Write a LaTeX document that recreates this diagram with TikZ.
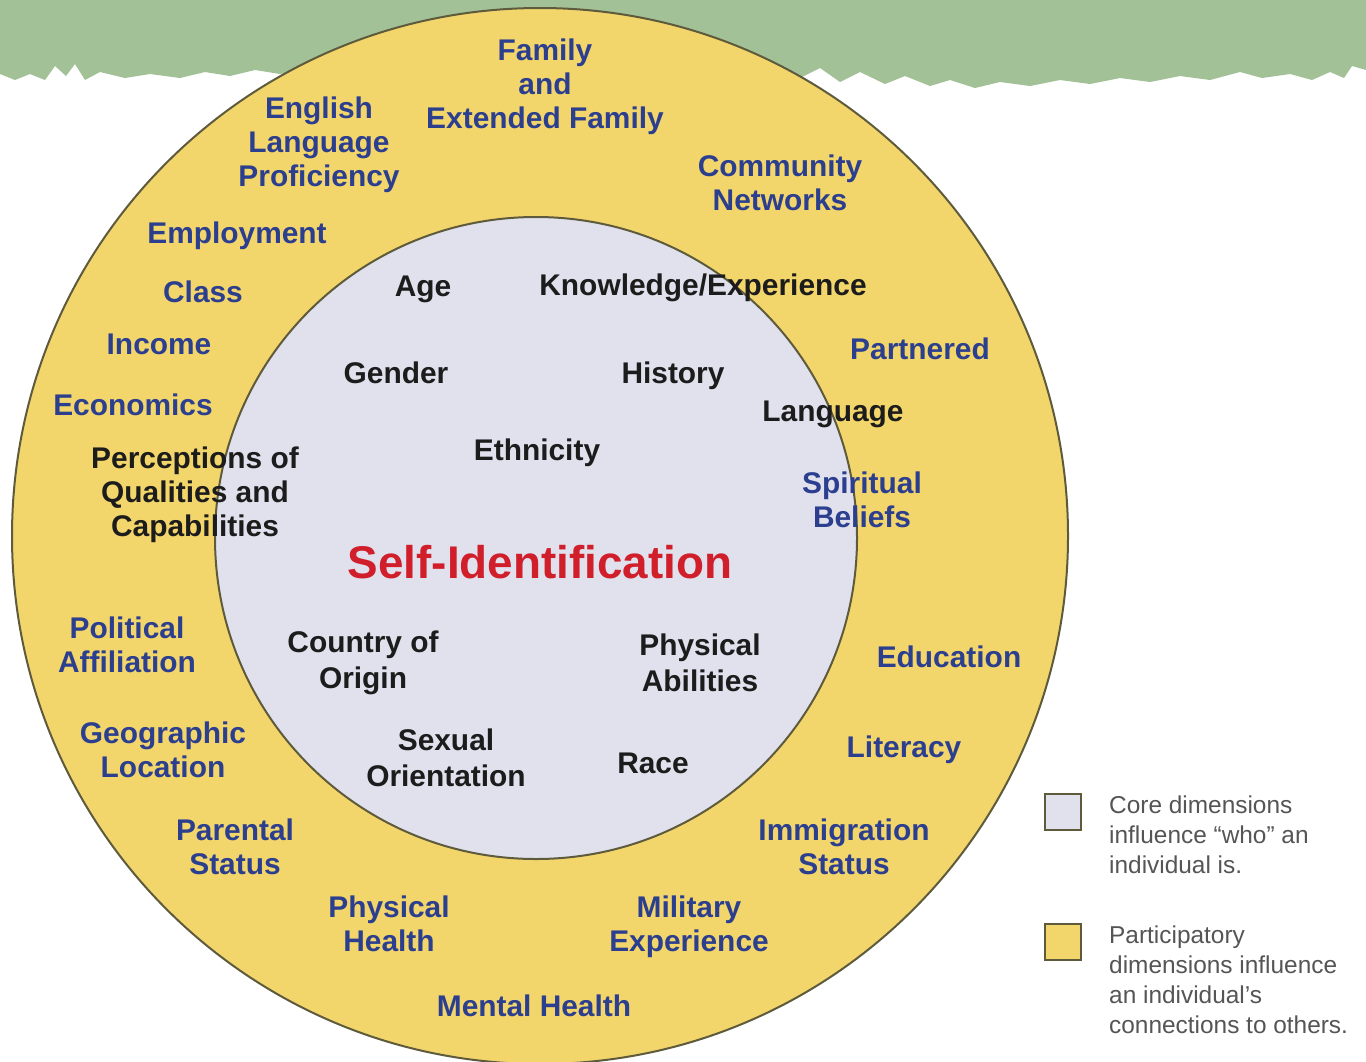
\documentclass[tikz,border=0pt]{standalone}
\usepackage{fontspec}
\setmainfont{Liberation Sans}
\definecolor{bandgreen}{HTML}{A3C197}
\definecolor{ringyellow}{HTML}{F3D66B}
\definecolor{corelav}{HTML}{E1E1EE}
\definecolor{ringline}{HTML}{5E5A3C}
\definecolor{partblue}{HTML}{2C3F8F}
\definecolor{coreblack}{HTML}{1C1C1C}
\definecolor{selfred}{HTML}{D01F2A}
\definecolor{keygrey}{HTML}{555555}
\tikzset{
  partlabel/.style={font=\fontsize{30}{34}\selectfont\bfseries, text=partblue, align=center, inner sep=0pt},
  corelabel/.style={font=\fontsize{30}{36}\selectfont\bfseries, text=coreblack, align=center, inner sep=0pt},
  keytext/.style={font=\fontsize{24.5}{30}\selectfont, text=keygrey, align=left, anchor=west, inner sep=0pt},
  keybox/.style={draw=ringline, line width=2bp, minimum width=36bp, minimum height=36bp, inner sep=0pt},
  ring/.style={draw=ringline, line width=2bp}
}
\begin{document}
\begin{tikzpicture}[x=1bp,y=-1bp]
\useasboundingbox (0,0) rectangle (1366,1061);
\clip (0,0) rectangle (1366,1061);
\fill[white] (0,0) rectangle (1366,1061);
% torn green band across the top
\fill[bandgreen] (0,0) -- (1366,0) -- (1366,70) -- (1352,66) -- (1344,78) -- (1330,72) -- (1312,80)
  -- (1290,74) -- (1262,78) -- (1240,72) -- (1210,80) -- (1180,76) -- (1150,82) -- (1120,78)
  -- (1090,84) -- (1060,80) -- (1030,86) -- (1000,82) -- (975,88) -- (950,80) -- (930,86)
  -- (905,76) -- (885,84) -- (860,72) -- (840,82) -- (820,68) -- (800,78) -- (780,70)
  -- (300,70) -- (280,74) -- (255,70) -- (230,76) -- (205,72) -- (180,78) -- (150,74)
  -- (125,78) -- (100,72) -- (85,80) -- (75,64) -- (66,76) -- (55,66) -- (45,80)
  -- (30,74) -- (15,80) -- (0,74) -- cycle;
% participatory ring and core disc
\path[ring, fill=ringyellow] (540,536) circle (528);
\path[ring, fill=corelav] (536,538) circle (321);
% participatory dimensions
\node[partlabel] (fam) at (545,87) {Family\\and\\Extended Family};
\node[partlabel] (eng) at (319,145) {English\\Language\\Proficiency};
\node[partlabel] (com) at (780,183) {Community\\Networks};
\node[partlabel] (emp) at (237,236) {Employment};
\node[partlabel] (cls) at (203,292) {Class};
\node[partlabel] (inc) at (159,344) {Income};
\node[partlabel] (eco) at (133,405) {Economics};
\node[partlabel] (par) at (920,349) {Partnered};
\node[partlabel] (spi) at (862,500) {Spiritual\\Beliefs};
\node[partlabel] (pol) at (127,645) {Political\\Affiliation};
\node[partlabel] (edu) at (949,657) {Education};
\node[partlabel] (geo) at (163,750) {Geographic\\Location};
\node[partlabel] (lit) at (904,750) {Literacy};
\node[partlabel] (pst) at (235,847) {Parental\\Status};
\node[partlabel] (imm) at (844,847) {Immigration\\Status};
\node[partlabel] (phh) at (389,924) {Physical\\Health};
\node[partlabel] (mil) at (689,927) {Military\\Experience};
\node[partlabel] (men) at (534,1006) {Mental Health};
% core dimensions
\node[corelabel] (age) at (423,289) {Age};
\node[corelabel] (kno) at (703,288) {Knowledge/Experience};
\node[corelabel] (gen) at (396,373) {Gender};
\node[corelabel] (his) at (673,376) {History};
\node[corelabel] (lan) at (833,414) {Language};
\node[corelabel] (eth) at (537,453) {Ethnicity};
\node[corelabel, font=\fontsize{30}{34}\selectfont\bfseries] (per) at (195,495) {Perceptions of\\Qualities and\\Capabilities};
\node[font=\fontsize{46}{50}\selectfont\bfseries, text=selfred, inner sep=0pt] (self) at (540,562) {Self-Identification};
\node[corelabel] (cou) at (363,663) {Country of\\Origin};
\node[corelabel] (abl) at (700,663) {Physical\\Abilities};
\node[corelabel] (sex) at (446,758) {Sexual\\Orientation};
\node[corelabel] (rac) at (653,763) {Race};
% key
\node[keybox, fill=corelav] (kcore) at (1063,812) {};
\node[keytext] (tcore) at (1109,835) {Core dimensions\\influence “who” an\\individual is.};
\node[keybox, fill=ringyellow] (kpart) at (1063,942) {};
\node[keytext] (tpart) at (1109,980) {Participatory\\dimensions influence\\an individual’s\\connections to others.};
\end{tikzpicture}
\end{document}
